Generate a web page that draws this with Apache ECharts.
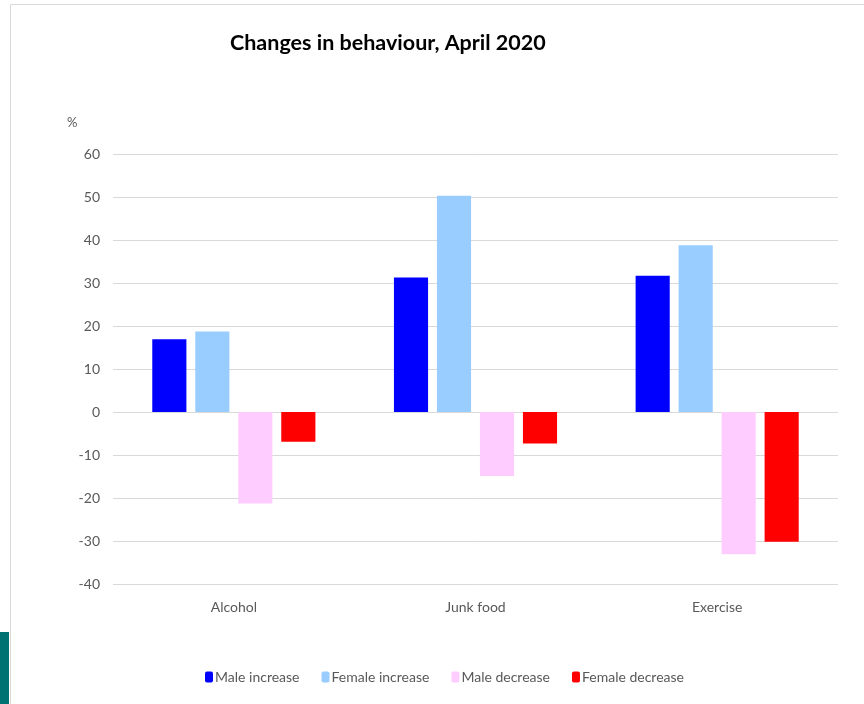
<!DOCTYPE html>
<html>
<head>
<meta charset="utf-8">
<style>html,body{margin:0;padding:0;background:#fff;}#c{width:864px;height:704px;}</style>
<script src="https://cdn.jsdelivr.net/npm/echarts@6/dist/echarts.min.js"></script>
</head>
<body>
<div id="c"></div>
<script>
const categories = ['Alcohol', 'Junk food', 'Exercise'];
const maleIncrease = [16.9, 31.3, 31.7];
const femaleIncrease = [18.7, 50.3, 38.8];
const maleDecrease = [-21.3, -14.9, -33.1];
const femaleDecrease = [-6.9, -7.3, -30.2];
const seriesNames = ['Male increase', 'Female increase', 'Male decrease', 'Female decrease'];
const seriesColors = ['#0000ff', '#99ccff', '#ffccff', '#ff0000'];

const chart = echarts.init(document.getElementById('c'));
const font = 'Lato, "Open Sans", sans-serif';
const dataSets = [maleIncrease, femaleIncrease, maleDecrease, femaleDecrease];
chart.setOption({
  animation: false,
  backgroundColor: '#ffffff',
  title: {
    text: 'Changes in behaviour, April 2020',
    left: 225, top: 27,
    textStyle: { fontFamily: font, fontWeight: 'bold', fontSize: 21.5, color: '#000' }
  },
  graphic: [
    { type: 'rect', shape: { x: 10.5, y: 4.5, width: 900, height: 800 }, style: { fill: 'none', stroke: '#d9d9d9', lineWidth: 1 }, silent: true },
    { type: 'rect', shape: { x: 0, y: 632, width: 9, height: 80 }, style: { fill: '#007272' }, silent: true },
    { type: 'text', left: 67, top: 116, style: { text: '%', fill: '#595959', fontSize: 13, fontFamily: font } }
  ],
  legend: {
    left: 200, top: 665,
    itemWidth: 8, itemHeight: 11, itemGap: 22,
    textStyle: { color: '#595959', fontSize: 14, fontFamily: font, padding: [0, 0, 0, -3] },
    data: seriesNames
  },
  grid: { left: 113, right: 26, top: 154, bottom: 120 },
  xAxis: {
    type: 'category', data: categories,
    axisLine: { show: false, onZero: false },
    axisTick: { show: false },
    axisLabel: { color: '#595959', fontSize: 14, fontFamily: font, margin: 16 }
  },
  yAxis: {
    type: 'value', min: -40, max: 60, interval: 10,
    axisLine: { show: false }, axisTick: { show: false },
    axisLabel: { color: '#595959', fontSize: 14, fontFamily: font, margin: 13 },
    splitLine: { lineStyle: { color: '#d9d9d9', width: 1 } }
  },
  series: seriesNames.map((n, i) => ({
    name: n, type: 'bar', data: dataSets[i],
    barGap: '26%', barCategoryGap: '32.5%',
    itemStyle: { color: seriesColors[i] }
  }))
});
</script>
</body>
</html>
